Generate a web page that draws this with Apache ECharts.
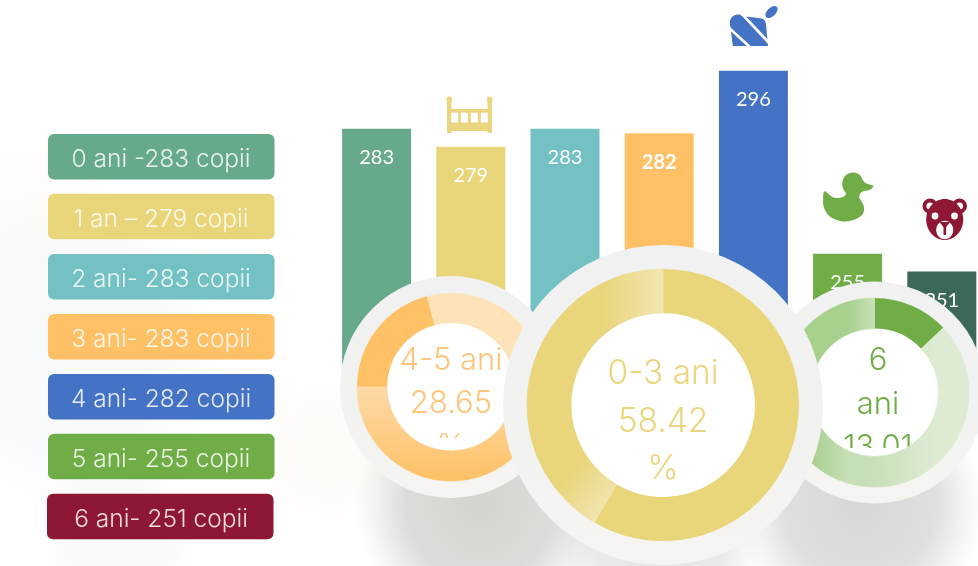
<!DOCTYPE html>
<html><head><meta charset="utf-8">
<style>html,body{margin:0;padding:0;background:#fff}#c{width:978px;height:566px}</style>
<script src="https://cdn.jsdelivr.net/npm/echarts@6/dist/echarts.min.js"></script>
</head><body><div id="c"></div>
<script>
const categories = ['0 ani','1 an','2 ani','3 ani','4 ani','5 ani','6 ani'];
const barValues = [283,279,283,282,296,255,251];
const barColors = ['#66A98B','#E9D57A','#73C1C3','#FFC066','#4472C4','#70AD47','#3C6955'];
const legendLabels = ['0 ani -283 copii','1 an – 279 copii','2 ani- 283 copii','3 ani- 283 copii','4 ani- 282 copii','5 ani- 255 copii','6 ani- 251 copii'];
const legendColors = ['#66A98B','#E9D57A','#73C1C3','#FFC066','#4472C4','#70AD47','#8E1733'];
const midSlices = [58.42,16.66,24.92];
const leftSlices = [29.2,50,20.8];
const rightSlices = [13.01,36.99,25,25];
const midText = ['0-3 ani','58.42','%'];
const leftText = ['4-5 ani','28.65','%'];
const rightText = ['6','ani','13.01'];
const FONT = 'Inter';

const g = [];
function radial(cx,cy,rx,ry,rgb,a,z){
  g.push({type:'ellipse',silent:true,z:z||1,shape:{cx,cy,rx,ry},style:{fill:{type:'radial',x:.5,y:.5,r:.5,colorStops:[
    {offset:0,color:`rgba(${rgb},${a})`},{offset:.6,color:`rgba(${rgb},${a*.8})`},{offset:.85,color:`rgba(${rgb},${a*.25})`},{offset:1,color:`rgba(${rgb},0)`}]}}});
}
// soft background tints
radial(70,350,170,190,'215,225,240',.18);
radial(30,240,150,120,'250,238,222',.14);
radial(120,540,220,90,'215,232,215',.16);
radial(330,450,80,150,'250,228,200',.14);
// shadows under the donuts
radial(480,505,195,125,'120,120,105',.32);
radial(860,505,185,125,'120,122,122',.30);
radial(660,540,340,105,'120,120,115',.2);

// legend pills
legendLabels.forEach((t,i)=>{
  const y=[134,193.7,254,314,374,433.7,493.7][i], x=i===6?47:48;
  g.push({type:'rect',silent:true,z:3,shape:{x,y,width:226.5,height:45.5,r:6},style:{fill:legendColors[i]}});
  g.push({type:'text',silent:true,z:4,x:161,y:y+26,style:{text:t,fill:'rgba(255,255,255,0.85)',fontFamily:FONT,fontWeight:300,fontSize:24.5,align:'center',verticalAlign:'middle'}});
});

function donutBase(cx,cy,R,r,lines,color,fs,ys,zb){
  g.push({type:'circle',silent:true,z:zb,shape:{cx,cy,r:R},style:{fill:{type:'linear',x:0,y:0,x2:0,y2:1,colorStops:[{offset:0,color:'#f1f1f1'},{offset:.6,color:'#f2f2f1'},{offset:1,color:'#f6f5f1'}]}}});
  g.push({type:'circle',silent:true,z:zb+1,shape:{cx,cy,r},style:{fill:'#fff'}});
  lines.forEach((t,i)=>g.push({type:'text',silent:true,z:zb+2,x:cx+(cx>800?3.5:0),y:ys[i],style:{text:t,fill:color,fontFamily:FONT,fontWeight:300,fontSize:fs,align:'center',verticalAlign:'middle'}}));
}
donutBase(451,387,111,64,leftText,'#FEC67A',31,[361,404,447],10);
donutBase(874.5,392.5,111,64,rightText,'#70AD47',31,[361,405,448],10);
donutBase(663,405,160,92,midText,'#EBD67F',33.5,[374,422,469],20);
// clip the overflowing third lines
g.push({type:'rect',silent:true,z:13,shape:{x:420,y:438,width:62,height:16},style:{fill:'#fff'}});
g.push({type:'rect',silent:true,z:13,shape:{x:838,y:448,width:74,height:12},style:{fill:'#fff'}});

// icons built from simple shapes
const ICON_Z=5;
g.push({type:'ellipse',silent:true,z:ICON_Z,x:771.5,y:12,rotation:-Math.PI/4,shape:{cx:0,cy:0,rx:4.2,ry:7.5},style:{fill:'#4472C4'}});
const crib='#EBD67F';
[[447,4.5],[487.5,4.5]].forEach(p=>{
  g.push({type:'rect',silent:true,z:ICON_Z,shape:{x:p[0],y:98,width:p[1],height:35},style:{fill:crib}});
  g.push({type:'circle',silent:true,z:ICON_Z,shape:{cx:p[0]+2.25,cy:99.5,r:2.9},style:{fill:crib}});
});
g.push({type:'rect',silent:true,z:ICON_Z,shape:{x:451,y:109,width:37,height:22},style:{fill:crib}});
[451.2,460.8,470.8,480.8].forEach(x=>g.push({type:'rect',silent:true,z:ICON_Z+1,shape:{x,y:112.7,width:7,height:9.8},style:{fill:'#fff'}}));
const bear='#8E1733';
[[930,206],[959.5,206]].forEach(p=>{
  g.push({type:'circle',silent:true,z:ICON_Z,shape:{cx:p[0],cy:p[1],r:7.5},style:{fill:bear}});
  g.push({type:'circle',silent:true,z:ICON_Z+1,shape:{cx:p[0],cy:p[1],r:3.6},style:{fill:'#fff'}});
});
g.push({type:'ellipse',silent:true,z:ICON_Z+2,shape:{cx:944.7,cy:219.5,rx:18.5,ry:20.5},style:{fill:bear}});
g.push({type:'circle',silent:true,z:ICON_Z+3,shape:{cx:935,cy:216,r:3.4},style:{fill:'#fff'}});
g.push({type:'circle',silent:true,z:ICON_Z+3,shape:{cx:954.5,cy:216,r:3.4},style:{fill:'#fff'}});
g.push({type:'ellipse',silent:true,z:ICON_Z+3,shape:{cx:944.7,cy:230,rx:8.5,ry:9.2},style:{fill:'#fff'}});
g.push({type:'polygon',silent:true,z:ICON_Z+4,shape:{points:[[939.5,222],[950,222],[946.2,227],[946,235],[943.6,235],[943.4,227]]},style:{fill:bear}});
g.push({type:'line',silent:true,z:ICON_Z+1,shape:{x1:728,y1:27,x2:751,y2:48},style:{stroke:'#fff',lineWidth:2.6}});
g.push({type:'line',silent:true,z:ICON_Z+1,shape:{x1:742,y1:14,x2:770,y2:44},style:{stroke:'#fff',lineWidth:2.6}});

const topPath='M730 24 C729 17 737 12 742 16 L762 18.5 C764 19 765.5 21 766 24 L768 46 L733 46 Z';
const duckPath='M825 191 C827 192 830 197 836 198 C842 198 846 196 846 193 C843 190 841 186 843 180 C846 172 857 171 861 177 C863 181 864 183 867 184 L873.5 186 C873 189 869 191 864 191 C860 192 858 196 860 199 C866 206 865 213 860 216 C853 221 843 222 836 219 C827 216 822 208 823 199 C823 195 823 192 825 191 Z';

const gl=(x,y,x2,y2,stops)=>({type:'linear',global:true,x,y,x2,y2,colorStops:stops.map(s=>({offset:s[0],color:s[1]}))});

function pie(center,radius,startAngle,values,colors,z){
  return {type:'pie',silent:true,animation:false,z,center,radius,startAngle,clockwise:true,label:{show:false},labelLine:{show:false},emphasis:{disabled:true},
    data:values.map((v,i)=>({value:v,itemStyle:{color:colors[i],borderColor:colors[i],borderWidth:typeof colors[i]==='string'?0:0.7}}))};
}

const option={
  animation:false,
  backgroundColor:'#fff',
  grid:{left:329.5,top:53,width:659.4,height:348,containLabel:false,outerBoundsMode:'none'},
  xAxis:{type:'category',data:categories,show:false},
  yAxis:{type:'value',min:222,max:300,show:false},
  graphic:{elements:g},
  series:[
    {type:'bar',z:2,silent:true,barWidth:69,data:barValues.map((v,i)=>({value:v,itemStyle:{color:barColors[i]},label:i===3?{fontWeight:'bold'}:undefined})),
     label:{show:true,position:'insideTop',distance:19,color:'#fff',fontFamily:'Lato',fontSize:20}},
    {type:'custom',coordinateSystem:'none',silent:true,z:ICON_Z,data:[0],
     renderItem:()=>({type:'group',children:[
       {type:'path',shape:{pathData:topPath,layout:'cover',x:729.8,y:14.6,width:38.2,height:31.4},style:{fill:'#4472C4'}},
       {type:'path',shape:{pathData:duckPath,layout:'cover',x:823,y:172.5,width:50.5,height:49},style:{fill:'#70AD47'}}
     ]})},
    pie([451,387],[64,94],105,leftSlices,[
      '#FEE2B8',
      gl(0,387,0,481,[[0,'#FDDAA8'],[1,'#FEC165']]),
      '#FEC165'],14),
    pie([874.5,392.5],[64,94.5],90,rightSlices,[
      '#70AD47',
      gl(874,0,935,0,[[0,'#C9E0BB'],[1,'#DDEBD3']]),
      gl(800,0,874,0,[[0,'#9FCB83'],[.65,'#C6DFB7'],[1,'#C9E0BB']]),
      gl(830,0,874,0,[[0,'#A8D08D'],[.4,'#A8D08D'],[1,'#C8E0B8']])],14),
    pie([663,405],[92,136],90,midSlices,[
      '#E9D57A',
      gl(527,430,610,500,[[0,'#E9D57A'],[.55,'#E9D57A'],[1,'#F0E4AC']]),
      gl(527,0,663,0,[[0,'#E9D57A'],[.55,'#E9D57A'],[1,'#F2E6B2']])],24)
  ]
};
echarts.init(document.getElementById('c'),null,{renderer:'canvas'}).setOption(option);
</script></body></html>
